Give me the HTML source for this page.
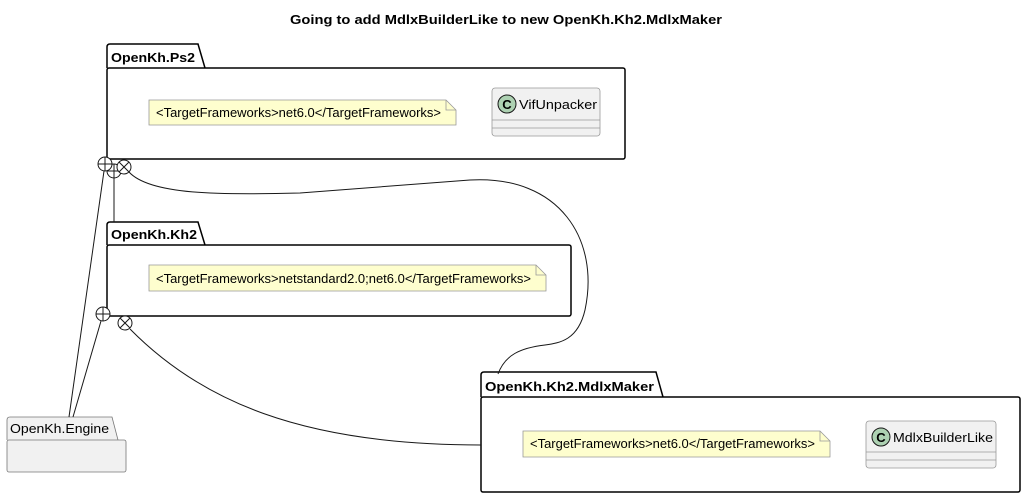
<!DOCTYPE html>
<html><head><style>
body{margin:0;background:#fff;}
svg{display:block;font-family:"Liberation Sans",sans-serif;}
</style></head><body>
<svg width="1026" height="498" viewBox="0 0 1026 498" xmlns="http://www.w3.org/2000/svg">
<text x="290" y="24" font-size="13" font-weight="bold" textLength="432" lengthAdjust="spacingAndGlyphs">Going to add MdlxBuilderLike to new OpenKh.Kh2.MdlxMaker</text>

<!-- Ps2 package -->
<path d="M107,68 L107,47 Q107,44 110,44 L198,44 L205,68" fill="#fff" stroke="#000" stroke-width="1.5"/>
<rect x="107" y="68" width="518" height="91" rx="2" fill="#fff" stroke="#000" stroke-width="1.5"/>
<text x="111" y="62" font-size="13" font-weight="bold" textLength="84" lengthAdjust="spacingAndGlyphs">OpenKh.Ps2</text>
<path d="M149,100 L446,100 L456,110 L456,125 L149,125 Z" fill="#fefece" stroke="#999" stroke-width="0.8"/>
<path d="M446,100 L446,110 L456,110" fill="none" stroke="#999" stroke-width="0.8"/>
<text x="156" y="117" font-size="13" textLength="285" lengthAdjust="spacingAndGlyphs">&lt;TargetFrameworks&gt;net6.0&lt;/TargetFrameworks&gt;</text>
<rect x="492" y="88" width="108" height="48" rx="3" fill="#f1f1f1" stroke="#999" stroke-width="0.8"/>
<line x1="492" y1="120" x2="600" y2="120" stroke="#999" stroke-width="0.8"/>
<line x1="492" y1="128" x2="600" y2="128" stroke="#999" stroke-width="0.8"/>
<circle cx="507" cy="104" r="9" fill="#add1b2" stroke="#181818" stroke-width="1"/>
<text x="507" y="109" text-anchor="middle" font-size="13" font-weight="bold">C</text>
<text x="519" y="109" font-size="13" textLength="78" lengthAdjust="spacingAndGlyphs">VifUnpacker</text>

<!-- Kh2 package -->
<path d="M107,245 L107,225 Q107,222 110,222 L198,222 L205,245" fill="#fff" stroke="#000" stroke-width="1.5"/>
<rect x="107" y="245" width="464" height="71" rx="2" fill="#fff" stroke="#000" stroke-width="1.5"/>
<text x="111" y="239" font-size="13" font-weight="bold" textLength="86" lengthAdjust="spacingAndGlyphs">OpenKh.Kh2</text>
<path d="M149,265 L536,265 L546,275 L546,291 L149,291 Z" fill="#fefece" stroke="#999" stroke-width="0.8"/>
<path d="M536,265 L536,275 L546,275" fill="none" stroke="#999" stroke-width="0.8"/>
<text x="156" y="283" font-size="13" textLength="375" lengthAdjust="spacingAndGlyphs">&lt;TargetFrameworks&gt;netstandard2.0;net6.0&lt;/TargetFrameworks&gt;</text>

<!-- MdlxMaker package -->
<path d="M481,397 L481,375 Q481,372 484,372 L656,372 L663,397" fill="#fff" stroke="#000" stroke-width="1.5"/>
<rect x="481" y="397" width="539" height="95" rx="2" fill="#fff" stroke="#000" stroke-width="1.5"/>
<text x="485" y="391" font-size="13" font-weight="bold" textLength="169" lengthAdjust="spacingAndGlyphs">OpenKh.Kh2.MdlxMaker</text>
<path d="M523,431 L820,431 L830,441 L830,457 L523,457 Z" fill="#fefece" stroke="#999" stroke-width="0.8"/>
<path d="M820,431 L820,441 L830,441" fill="none" stroke="#999" stroke-width="0.8"/>
<text x="530" y="448" font-size="13" textLength="285" lengthAdjust="spacingAndGlyphs">&lt;TargetFrameworks&gt;net6.0&lt;/TargetFrameworks&gt;</text>
<rect x="866" y="421" width="130" height="47" rx="3" fill="#f1f1f1" stroke="#999" stroke-width="0.8"/>
<line x1="866" y1="452" x2="996" y2="452" stroke="#999" stroke-width="0.8"/>
<line x1="866" y1="460" x2="996" y2="460" stroke="#999" stroke-width="0.8"/>
<circle cx="881" cy="437" r="9" fill="#add1b2" stroke="#181818" stroke-width="1"/>
<text x="881" y="442" text-anchor="middle" font-size="13" font-weight="bold">C</text>
<text x="893" y="442" font-size="13" textLength="100" lengthAdjust="spacingAndGlyphs">MdlxBuilderLike</text>

<!-- Engine package -->
<path d="M7,440 L7,420 Q7,417 10,417 L112,417 L118,440" fill="#f1f1f1" stroke="#777" stroke-width="0.8"/>
<rect x="7" y="440" width="119" height="32" rx="2" fill="#f1f1f1" stroke="#777" stroke-width="0.8"/>
<text x="10" y="433" font-size="13" textLength="99" lengthAdjust="spacingAndGlyphs">OpenKh.Engine</text>

<!-- connectors -->
<g fill="none" stroke="#181818" stroke-width="1">
<line x1="114" y1="171" x2="114" y2="222"/>
<line x1="104" y1="171" x2="69" y2="417"/>
<line x1="101" y1="321" x2="73" y2="417"/>
<path d="M129,172 C150,195 220,195 300,193 L470,180 C560,175 600,240 585,310 C578,340 560,343 545,345 C520,348 505,355 498,374"/>
<path d="M130,329 C200,400 300,445 481,445"/>
</g>
<g fill="#fff" stroke="#181818" stroke-width="1">
<circle cx="114" cy="171" r="7"/>
<path d="M107,171 L121,171 M114,164 L114,178"/>
<circle cx="105" cy="164" r="7"/>
<path d="M98,164 L112,164 M105,157 L105,171"/>
<circle cx="124" cy="167" r="7"/>
<path d="M119,162 L129,172 M129,162 L119,172"/>
<circle cx="103" cy="314" r="7"/>
<path d="M96,314 L110,314 M103,307 L103,321"/>
<circle cx="125" cy="323" r="7"/>
<path d="M120,318 L130,328 M130,318 L120,328"/>
</g>
</svg>
</body></html>
